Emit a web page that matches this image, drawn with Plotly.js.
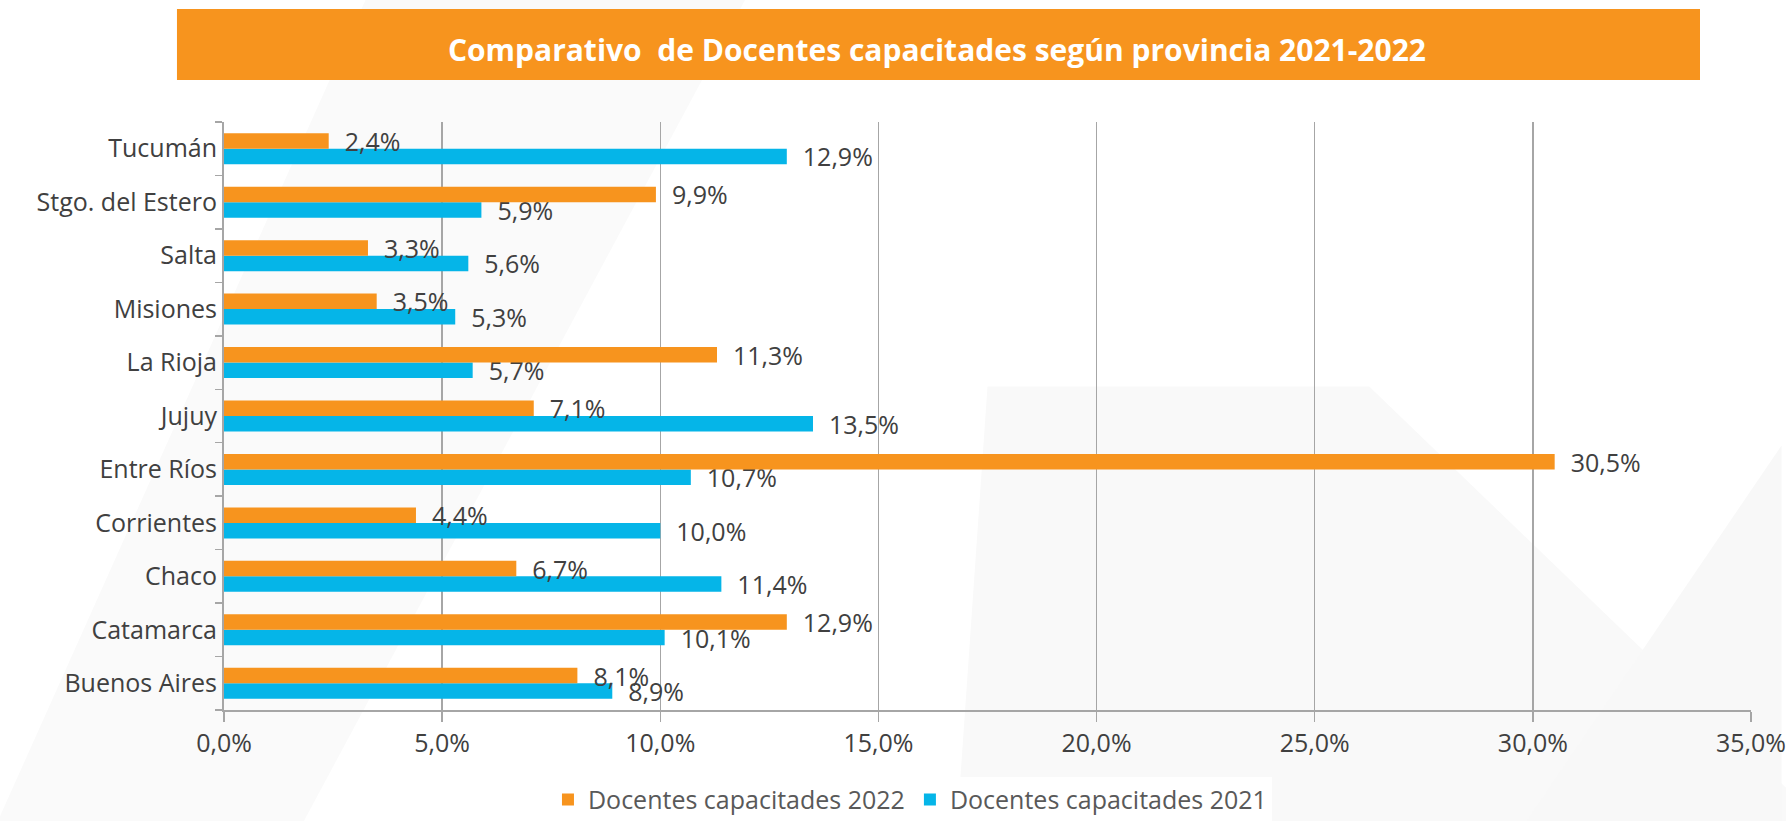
<!DOCTYPE html>
<html>
<head>
<meta charset="utf-8">
<script src="https://cdn.plot.ly/plotly-3.0.1.min.js"></script>
<style>html,body{margin:0;padding:0;background:#fff;}#chart{width:1786px;height:821px;}</style>
</head>
<body>
<div id="chart"></div>
<script>
const provincias = ["Buenos Aires","Catamarca","Chaco","Corrientes","Entre Ríos","Jujuy","La Rioja","Misiones","Salta","Stgo. del Estero","Tucumán"];
const docentes2022 = [8.1, 12.9, 6.7, 4.4, 30.5, 7.1, 11.3, 3.5, 3.3, 9.9, 2.4];
const docentes2021 = [8.9, 10.1, 11.4, 10.0, 10.7, 13.5, 5.7, 5.3, 5.6, 5.9, 12.9];
const xTicks = [0, 5, 10, 15, 20, 25, 30, 35];

const FONT = "'Open Sans', 'Noto Sans', sans-serif";
const ORANGE = "#F7941E";
const BLUE = "#05B5E8";
const TXT = "#404040";
const FS = 25;

const traces = [
  {
    type: "bar", orientation: "h", name: "Docentes capacitades 2021",
    y: provincias, x: docentes2021,
    marker: {color: BLUE},
    texttemplate: "  %{x:.1f}%", textposition: "outside",
    textfont: {family: FONT, size: FS, color: TXT},
    constraintext: "none", cliponaxis: false, hoverinfo: "skip"
  },
  {
    type: "bar", orientation: "h", name: "Docentes capacitades 2022",
    y: provincias, x: docentes2022,
    marker: {color: ORANGE},
    texttemplate: "  %{x:.1f}%", textposition: "outside",
    textfont: {family: FONT, size: FS, color: TXT},
    constraintext: "none", cliponaxis: false, hoverinfo: "skip"
  }
];

const layout = {
  width: 1786, height: 821,
  paper_bgcolor: "#ffffff", plot_bgcolor: "rgba(0,0,0,0)",
  separators: ",.",
  margin: {l: 224, r: 35, t: 122, b: 111, autoexpand: false},
  font: {family: FONT, size: FS, color: TXT},
  barmode: "group", bargap: 0.42, bargroupgap: 0,
  title: {
    text: "<b>Comparativo  de Docentes capacitades según provincia 2021-2022</b>",
    font: {family: FONT, size: 30, color: "#ffffff"},
    xref: "container", yref: "container", x: 0.5246, y: 0.939,
    xanchor: "center", yanchor: "middle"
  },
  xaxis: {
    range: [0, 35], tickvals: xTicks, ticktext: xTicks.map(v => v.toFixed(1).replace(".", ",") + "%"),
    showgrid: true, gridcolor: "#a6a6a6", gridwidth: 1.5,
    showline: true, linecolor: "#a6a6a6", linewidth: 2,
    ticks: "outside", ticklen: 10, tickcolor: "#a6a6a6", tickwidth: 1.5,
    tickfont: {family: FONT, size: FS, color: TXT},
    ticklabeloverflow: "allow",
    zeroline: false, fixedrange: true, automargin: false
  },
  yaxis: {
    type: "category",
    showline: true, linecolor: "#a6a6a6", linewidth: 2,
    ticks: "outside", tickson: "boundaries", ticklen: 7, tickcolor: "#a6a6a6", tickwidth: 1.5,
    tickfont: {family: FONT, size: FS, color: TXT},
    showgrid: false, fixedrange: true, automargin: false
  },
  legend: {
    orientation: "h", traceorder: "reversed",
    xref: "container", yref: "container",
    x: 0.5095, xanchor: "center", y: 0.026, yanchor: "middle",
    font: {family: FONT, size: FS, color: "#595959"},
    itemwidth: 30
  },
  showlegend: true,
  shapes: [
    {type: "path", xref: "paper", yref: "paper", layer: "below",
     path: "M -0.15 -0.2 L 0.1 1.25 L 0.35 1.25 L 0.05 -0.2 Z",
     fillcolor: "#fafafa", line: {width: 0}},
    {type: "path", xref: "paper", yref: "paper", layer: "below",
     path: "M 0.48 -0.2 L 0.5 0.55 L 0.75 0.55 L 1.05 -0.2 Z",
     fillcolor: "#f9f9f9", line: {width: 0}},
    {type: "path", xref: "paper", yref: "paper", layer: "below",
     path: "M 0.85 -0.2 L 1.02 0.45 L 1.02 -0.2 Z",
     fillcolor: "#f8f8f8", line: {width: 0}},
    {type: "rect", xref: "paper", yref: "paper", layer: "below",
     x0: -0.0308, x1: 0.9666, y0: 1.0714, y1: 1.192,
     fillcolor: ORANGE, line: {width: 0}}
  ]
};

Plotly.newPlot("chart", traces, layout, {displayModeBar: false, staticPlot: true});
</script>
</body>
</html>
